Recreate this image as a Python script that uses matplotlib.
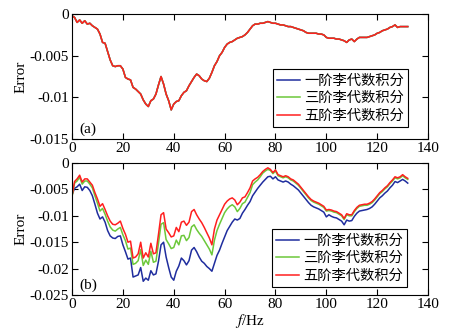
import numpy as np
import matplotlib
matplotlib.use("Agg")
import matplotlib.pyplot as plt

plt.rcParams['font.family'] = ['Liberation Serif', 'Noto Sans CJK SC']
plt.rcParams['mathtext.fontset'] = 'stix'
plt.rcParams['axes.unicode_minus'] = False

# frequency grid (Hz)
freq = np.arange(0, 133)

# (a) all three orders coincide
err_a = [-0.0002, -0.0004, -0.0010, -0.0007, -0.0011, -0.0008, -0.0012, -0.0011, -0.0014, -0.0016,
         -0.0018, -0.0024, -0.0034, -0.0035, -0.0045, -0.0055, -0.0062, -0.0063, -0.0062, -0.0062,
         -0.0066, -0.0076, -0.0078, -0.0079, -0.0088, -0.0090, -0.0093, -0.0096, -0.0103, -0.0108,
         -0.0111, -0.0104, -0.0102, -0.0096, -0.0085, -0.0075, -0.0084, -0.0096, -0.0104, -0.0115,
         -0.0108, -0.0105, -0.0104, -0.0098, -0.0094, -0.0092, -0.0086, -0.0081, -0.0076, -0.0072,
         -0.0074, -0.0078, -0.0080, -0.0081, -0.0077, -0.0070, -0.0062, -0.0057, -0.0050, -0.0046,
         -0.0040, -0.0036, -0.0034, -0.0033, -0.0031, -0.0029, -0.0028, -0.0027, -0.0025, -0.0022,
         -0.0018, -0.0014, -0.0012, -0.0012, -0.0011, -0.0011, -0.0010, -0.0009, -0.0010, -0.0011,
         -0.0011, -0.0012, -0.0013, -0.0013, -0.0014, -0.0015, -0.0015, -0.0016, -0.0017, -0.0018,
         -0.0019, -0.0020, -0.0022, -0.0023, -0.0023, -0.0023, -0.0023, -0.0024, -0.0024, -0.0025,
         -0.0028, -0.0029, -0.0029, -0.0029, -0.0030, -0.0030, -0.0031, -0.0032, -0.0034, -0.0031,
         -0.0030, -0.0033, -0.0030, -0.0028, -0.0028, -0.0028, -0.0028, -0.0027, -0.0026, -0.0025,
         -0.0023, -0.0022, -0.0020, -0.0019, -0.0018, -0.0016, -0.0015, -0.0013, -0.0016, -0.0015,
         -0.0015, -0.0015, -0.0015]

# (b) first / third / fifth order
err_b1 = [-0.0060, -0.0048, -0.0045, -0.0040, -0.0052, -0.0045, -0.0046, -0.0052, -0.0062, -0.0078,
          -0.0095, -0.0106, -0.0102, -0.0112, -0.0128, -0.0138, -0.0142, -0.0143, -0.0139, -0.0138,
          -0.0155, -0.0168, -0.0182, -0.0180, -0.0216, -0.0214, -0.0212, -0.0198, -0.0224, -0.0218,
          -0.0222, -0.0204, -0.0212, -0.0210, -0.0186, -0.0155, -0.0150, -0.0178, -0.0198, -0.0216,
          -0.0222, -0.0205, -0.0195, -0.0180, -0.0185, -0.0193, -0.0185, -0.0165, -0.0160, -0.0168,
          -0.0178, -0.0186, -0.0190, -0.0196, -0.0200, -0.0205, -0.0190, -0.0175, -0.0165, -0.0152,
          -0.0140, -0.0128, -0.0120, -0.0112, -0.0106, -0.0108, -0.0105, -0.0095, -0.0088, -0.0080,
          -0.0073, -0.0062, -0.0055, -0.0048, -0.0042, -0.0036, -0.0031, -0.0026, -0.0025, -0.0030,
          -0.0026, -0.0032, -0.0034, -0.0036, -0.0034, -0.0036, -0.0040, -0.0043, -0.0047, -0.0051,
          -0.0057, -0.0063, -0.0069, -0.0075, -0.0080, -0.0083, -0.0085, -0.0087, -0.0090, -0.0093,
          -0.0102, -0.0098, -0.0101, -0.0103, -0.0104, -0.0107, -0.0110, -0.0117, -0.0108, -0.0110,
          -0.0109, -0.0101, -0.0095, -0.0091, -0.0090, -0.0089, -0.0088, -0.0086, -0.0083, -0.0078,
          -0.0072, -0.0066, -0.0062, -0.0057, -0.0053, -0.0047, -0.0042, -0.0035, -0.0037, -0.0034,
          -0.0031, -0.0034, -0.0038]
err_b3 = [-0.0064, -0.0038, -0.0034, -0.0027, -0.0040, -0.0034, -0.0034, -0.0040, -0.0047, -0.0062,
          -0.0076, -0.0091, -0.0086, -0.0097, -0.0110, -0.0121, -0.0127, -0.0129, -0.0125, -0.0122,
          -0.0136, -0.0147, -0.0163, -0.0161, -0.0192, -0.0190, -0.0185, -0.0164, -0.0194, -0.0184,
          -0.0192, -0.0167, -0.0188, -0.0186, -0.0152, -0.0116, -0.0113, -0.0145, -0.0153, -0.0162,
          -0.0160, -0.0146, -0.0155, -0.0138, -0.0137, -0.0147, -0.0141, -0.0121, -0.0117, -0.0126,
          -0.0133, -0.0139, -0.0147, -0.0155, -0.0163, -0.0174, -0.0146, -0.0128, -0.0116, -0.0105,
          -0.0094, -0.0087, -0.0082, -0.0079, -0.0083, -0.0092, -0.0086, -0.0077, -0.0074, -0.0065,
          -0.0056, -0.0041, -0.0036, -0.0032, -0.0026, -0.0019, -0.0015, -0.0012, -0.0014, -0.0020,
          -0.0015, -0.0024, -0.0026, -0.0028, -0.0026, -0.0028, -0.0032, -0.0034, -0.0038, -0.0042,
          -0.0048, -0.0054, -0.0060, -0.0066, -0.0071, -0.0074, -0.0076, -0.0078, -0.0081, -0.0084,
          -0.0091, -0.0090, -0.0091, -0.0093, -0.0094, -0.0097, -0.0100, -0.0107, -0.0098, -0.0100,
          -0.0100, -0.0092, -0.0086, -0.0082, -0.0081, -0.0080, -0.0080, -0.0078, -0.0075, -0.0070,
          -0.0064, -0.0058, -0.0054, -0.0049, -0.0045, -0.0039, -0.0034, -0.0028, -0.0030, -0.0028,
          -0.0024, -0.0028, -0.0031]
err_b5 = [-0.0062, -0.0035, -0.0030, -0.0023, -0.0036, -0.0030, -0.0030, -0.0036, -0.0042, -0.0056,
          -0.0068, -0.0082, -0.0077, -0.0088, -0.0100, -0.0110, -0.0116, -0.0117, -0.0114, -0.0110,
          -0.0124, -0.0135, -0.0150, -0.0148, -0.0180, -0.0178, -0.0172, -0.0150, -0.0180, -0.0170,
          -0.0178, -0.0152, -0.0172, -0.0170, -0.0135, -0.0098, -0.0094, -0.0125, -0.0132, -0.0140,
          -0.0138, -0.0122, -0.0130, -0.0112, -0.0110, -0.0118, -0.0112, -0.0092, -0.0088, -0.0098,
          -0.0106, -0.0113, -0.0122, -0.0132, -0.0142, -0.0155, -0.0125, -0.0108, -0.0098, -0.0088,
          -0.0078, -0.0072, -0.0068, -0.0066, -0.0070, -0.0079, -0.0074, -0.0066, -0.0064, -0.0056,
          -0.0047, -0.0034, -0.0030, -0.0027, -0.0022, -0.0016, -0.0012, -0.0009, -0.0012, -0.0018,
          -0.0013, -0.0022, -0.0024, -0.0026, -0.0024, -0.0026, -0.0030, -0.0032, -0.0036, -0.0040,
          -0.0046, -0.0052, -0.0058, -0.0064, -0.0069, -0.0072, -0.0074, -0.0076, -0.0079, -0.0082,
          -0.0089, -0.0088, -0.0089, -0.0091, -0.0092, -0.0095, -0.0098, -0.0105, -0.0096, -0.0098,
          -0.0098, -0.0090, -0.0084, -0.0080, -0.0079, -0.0078, -0.0078, -0.0076, -0.0073, -0.0068,
          -0.0062, -0.0056, -0.0052, -0.0047, -0.0043, -0.0037, -0.0032, -0.0026, -0.0028, -0.0026,
          -0.0022, -0.0026, -0.0029]

names = ['一阶李代数积分', '三阶李代数积分', '五阶李代数积分']
colors = ['#1f2d9e', '#6cc83a', '#ff1f1f']

ticks_a = [0, -0.005, -0.01, -0.015]
ticks_b = [0, -0.005, -0.01, -0.015, -0.02, -0.025]
xticks = [0, 20, 40, 60, 80, 100, 120, 140]

fig = plt.figure(figsize=(4.49, 3.34), dpi=100)
ax1 = fig.add_axes([0.1604, 0.5838, 0.793, 0.374])
ax2 = fig.add_axes([0.1604, 0.1168, 0.793, 0.395])

for ax, series, yt, tag, anchor in [(ax1, [err_a, err_a, err_a], ticks_a, '(a)', (0.944, 0.096)),
                                    (ax2, [err_b1, err_b3, err_b5], ticks_b, '(b)', (0.941, 0.06))]:
    for s, c, n in zip(series, colors, names):
        ax.plot(freq, s, color=c, lw=1.1, label=n)
    ax.set_xlim(0, 140)
    ax.set_ylim(yt[-1], 0)
    ax.set_xticks(xticks)
    ax.set_yticks(yt)
    ax.set_yticklabels([('%g' % t) if t != 0 else '0' for t in yt])
    ax.tick_params(direction='in', top=True, right=True, labelsize=11, length=4, pad=2)
    ax.set_ylabel('Error', fontsize=11, labelpad=2)
    ax.text(0.02, 0.05, tag, transform=ax.transAxes, fontsize=11)
    leg = ax.legend(loc='lower right', frameon=True, fancybox=False,
                    framealpha=1, edgecolor='black', borderpad=0.3, labelspacing=0.25,
                    handlelength=1.6, handletextpad=0.3, borderaxespad=0,
                    bbox_to_anchor=anchor,
                    prop={'family': ['Noto Sans CJK SC'], 'size': 10.3})
    leg.get_frame().set_linewidth(0.8)

ax2.set_xlabel(r'$\mathit{f}$/Hz', fontsize=11, labelpad=1)

fig.savefig('out.png', dpi=100)
